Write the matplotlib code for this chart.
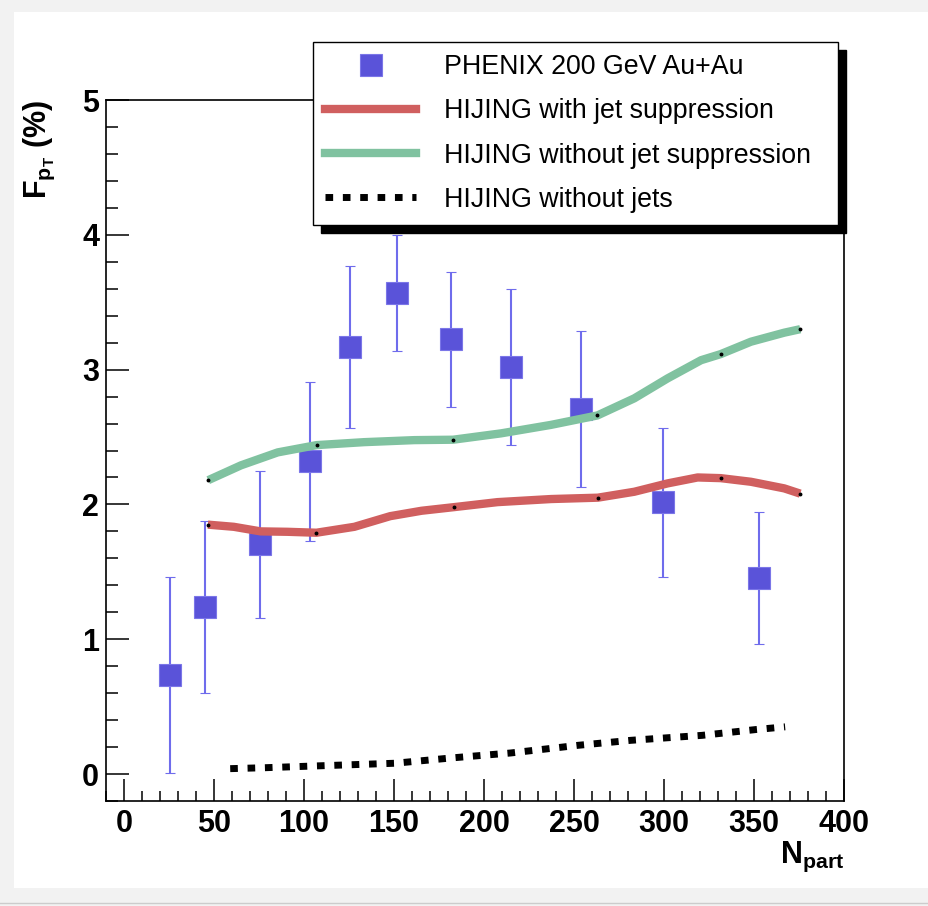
import matplotlib.pyplot as plt
from matplotlib.lines import Line2D
from matplotlib.patches import Rectangle

# PHENIX 200 GeV Au+Au points
npart = [25.7, 45.1, 75.7, 103.3, 125.7, 151.7, 181.7, 215.0, 254.0, 299.4, 352.6]
fpt = [0.735, 1.24, 1.705, 2.32, 3.17, 3.57, 3.225, 3.02, 2.71, 2.015, 1.455]
fpt_err = [0.725, 0.64, 0.545, 0.59, 0.60, 0.43, 0.50, 0.58, 0.58, 0.555, 0.49]

# HIJING with jet suppression
supp_x = [46.6, 61, 75.9, 90.8, 106.9, 128, 147.9, 165.3, 183.4, 207.5,
          237.3, 263.2, 283.5, 302, 318.7, 331.5, 348.3, 366.8, 375.7]
supp_y = [1.85, 1.834, 1.80, 1.797, 1.79, 1.834, 1.913, 1.953, 1.98, 2.017,
          2.04, 2.05, 2.094, 2.156, 2.20, 2.195, 2.168, 2.119, 2.08]
supp_knot_x = [46.6, 106.9, 183.4, 263.2, 331.5, 375.7]
supp_knot_y = [1.85, 1.79, 1.98, 2.05, 2.195, 2.08]

# HIJING without jet suppression
nosupp_x = [46.8, 65, 85.4, 107, 133.5, 161.3, 182.8, 209.4, 237.2, 263,
            283.5, 302, 320.6, 331.5, 348.3, 366.8, 375.7]
nosupp_y = [2.18, 2.29, 2.386, 2.44, 2.462, 2.477, 2.48, 2.527, 2.59, 2.66,
            2.787, 2.935, 3.07, 3.115, 3.207, 3.274, 3.30]
nosupp_knot_x = [46.8, 107, 183, 263, 331.5, 375.7]
nosupp_knot_y = [2.18, 2.44, 2.48, 2.66, 3.115, 3.30]

# HIJING without jets
nojet_x = [59, 78.5, 110.7, 150.4, 182.4, 214.7, 252.2, 281.5, 321.2, 351, 367.3]
nojet_y = [0.04, 0.047, 0.062, 0.08, 0.12, 0.156, 0.213, 0.25, 0.287, 0.33, 0.35]

labels = ["PHENIX 200 GeV Au+Au", "HIJING with jet suppression",
          "HIJING without jet suppression", "HIJING without jets"]

plt.rcParams["font.family"] = "Liberation Sans"
plt.rcParams["mathtext.fontset"] = "custom"
plt.rcParams["mathtext.rm"] = "Liberation Sans"
plt.rcParams["mathtext.bf"] = "Liberation Sans:bold"
plt.rcParams["mathtext.it"] = "Liberation Sans:italic"

W, H = 929, 906
blue = "#5a53d9"
red = "#d05f5f"
green = "#80c2a0"

fig = plt.figure(figsize=(W / 100, H / 100), dpi=100, facecolor="#f2f2f2")
fig.add_artist(Rectangle((14 / W, 1 - 888 / H), 1 - 14 / W, (888 - 12) / H,
                         transform=fig.transFigure, facecolor="white",
                         edgecolor="none", zorder=-10))
fig.add_artist(Line2D([0, 1], [1 - 903 / H] * 2, transform=fig.transFigure,
                      color="#cccccc", lw=1))

ax = fig.add_axes([106 / W, 1 - 801 / H, (844 - 106) / W, (801 - 100) / H])

ax.errorbar(npart, fpt, yerr=fpt_err, fmt="s", ms=16.5, color=blue,
            mec="#7b76e8", mew=0.8, ecolor="#6f6cec", elinewidth=1.5,
            capsize=3.6, capthick=1.5, zorder=3)

ax.plot(supp_x, supp_y, color=red, lw=6, solid_capstyle="butt", zorder=4)
ax.plot(nosupp_x, nosupp_y, color=green, lw=6, solid_capstyle="butt", zorder=4)
ax.plot(supp_knot_x, supp_knot_y, "o", ms=1.8, color="black", zorder=5)
ax.plot(nosupp_knot_x, nosupp_knot_y, "o", ms=1.8, color="black", zorder=5)
ax.plot(nojet_x, nojet_y, color="black", lw=5, linestyle=(0, (1.1, 1.4)),
        dash_capstyle="butt", zorder=4)

ax.set_xlim(-10, 400)
ax.set_ylim(-0.2, 5)

xt = list(range(0, 401, 50))
yt = [0, 1, 2, 3, 4, 5]
ax.set_xticks(xt, labels=[str(v) for v in xt], fontsize=22, fontweight="bold")
ax.set_yticks(yt, labels=[str(v) for v in yt], fontsize=22, fontweight="bold")
ax.set_xticks(list(range(-10, 401, 10)), minor=True)
ax.set_yticks([i * 0.2 - 0.2 for i in range(27)], minor=True)

ax.tick_params(which="both", direction="in", top=False, right=False, width=1.1)
ax.tick_params(axis="x", which="major", length=15.8, pad=6)
ax.tick_params(axis="x", which="minor", length=7.2)
ax.tick_params(axis="y", which="major", length=16.5, pad=5)
ax.tick_params(axis="y", which="minor", length=8.6)
for sp in ax.spines.values():
    sp.set_linewidth(1.2)

ax.set_ylabel(r"$\mathbf{F_{p_T}}$ (%)", fontsize=22, fontweight="bold", loc="top")
ax.yaxis.set_label_coords(-0.066, 1.0)
ax.set_xlabel(r"$\mathbf{N_{part}}$", fontsize=22, loc="right")
ax.xaxis.set_label_coords(1.0, -0.055)

handles = [
    Line2D([], [], ls="none", marker="s", ms=16.5, color=blue, mec="#7b76e8", mew=0.8),
    Line2D([], [], color=red, lw=6),
    Line2D([], [], color=green, lw=6),
    Line2D([], [], color="black", lw=5, linestyle=(0, (1.1, 1.4)), dash_capstyle="butt"),
]
leg = fig.legend(handles, labels, loc="upper left",
                 bbox_to_anchor=(313 / W, 1 - 42 / H, (838 - 313) / W, 0),
                 mode="expand", borderaxespad=0, fontsize=19.3, frameon=True,
                 fancybox=False, edgecolor="black", framealpha=1,
                 borderpad=0.45, labelspacing=0.68, handlelength=3.4,
                 handletextpad=1.05,
                 shadow={"ox": 5.8, "oy": -5.8, "shade": 1.0, "alpha": 1})
leg.get_frame().set_linewidth(1.0)

fig.savefig("out.png", dpi=100, facecolor=fig.get_facecolor())
